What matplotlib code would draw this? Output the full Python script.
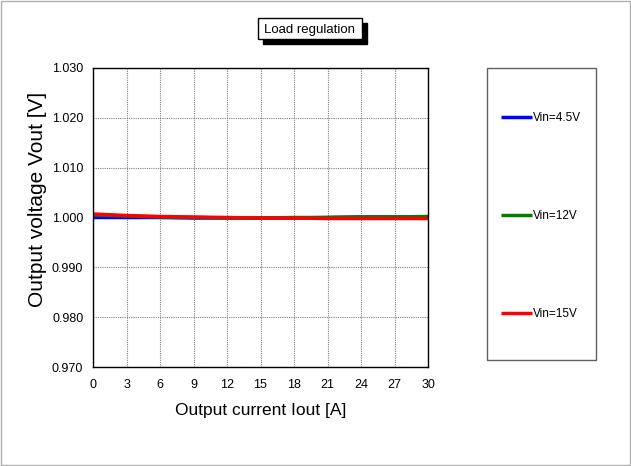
import matplotlib
matplotlib.use("Agg")
import matplotlib.pyplot as plt
from matplotlib.patches import Rectangle

# load regulation data
iout = [0, 3, 6, 9, 12, 15, 18, 21, 24, 27, 30]
vout_45 = [1.0000, 1.0000, 1.0000, 0.9999, 0.9999, 0.9999, 0.9999, 1.0000, 1.0001, 1.0001, 1.0001]
vout_12 = [1.0005, 1.0003, 1.0001, 1.0000, 0.9999, 0.9999, 1.0000, 1.0000, 1.0001, 1.0001, 1.0002]
vout_15 = [1.0007, 1.0004, 1.0002, 1.0001, 1.0000, 0.9999, 0.9999, 0.9998, 0.9998, 0.9998, 0.9998]
labels = ["Vin=4.5V", "Vin=12V", "Vin=15V"]
colors = ["#0000ff", "#008000", "#ff0000"]
xticks = list(range(0, 31, 3))
yticks = [0.970, 0.980, 0.990, 1.000, 1.010, 1.020, 1.030]

plt.rcParams['font.family'] = ['Liberation Sans', 'DejaVu Sans']

fig = plt.figure(figsize=(6.31, 4.66), dpi=100)
# faint outer border
fig.patches.append(Rectangle((0.002, 0.002), 0.996, 0.996, transform=fig.transFigure,
                             fill=False, edgecolor="#b0b0b0", lw=1))

ax = fig.add_axes([93/631, 1-367/466, 335/631, 299/466])
handles = []
for y, c, l in zip([vout_45, vout_12, vout_15], colors, labels):
    h, = ax.plot(iout, y, color=c, lw=2.5, label=l, solid_capstyle="butt")
    handles.append(h)

ax.set_xlim(0, 30)
ax.set_ylim(0.970, 1.030)
ax.set_xticks(xticks)
ax.set_yticks(yticks)
ax.set_yticklabels(["%.3f" % v for v in yticks])
ax.tick_params(length=0, labelsize=9, pad=7)
ax.tick_params(axis="x", pad=9)
ax.grid(True, color="#808080", ls=(0, (1, 1)), lw=0.8)
for s in ax.spines.values():
    s.set_linewidth(1.0)
ax.set_xlabel("Output current Iout [A]", fontsize=12.5)
ax.xaxis.set_label_coords(0.5, -0.12)
ax.set_ylabel("Output voltage Vout [V]", fontsize=15)
ax.yaxis.set_label_coords(-0.137, 0.56)

# title box with shadow
fig.patches.append(Rectangle((263/631, 1-44/466), 104/631, 21/466, transform=fig.transFigure,
                             facecolor="black", edgecolor="black", lw=1))
fig.patches.append(Rectangle((258/631, 1-39/466), 104/631, 21/466, transform=fig.transFigure,
                             facecolor="white", edgecolor="black", lw=1))
fig.text(310/631, 1-29.5/466, "Load regulation", ha="center", va="center", fontsize=9.5)

# legend box
fig.patches.append(Rectangle((487/631, 1-360/466), 109/631, 292/466, transform=fig.transFigure,
                             fill=False, edgecolor="#606060", lw=1))
fig.legend(handles=handles, labels=labels, loc="upper left",
           bbox_to_anchor=(501/631, 1-112/466), frameon=False, fontsize=8.5,
           handlelength=2.6, handletextpad=0.1, labelspacing=7.3, borderpad=0,
           borderaxespad=0)

fig.savefig("out.png", dpi=100)
